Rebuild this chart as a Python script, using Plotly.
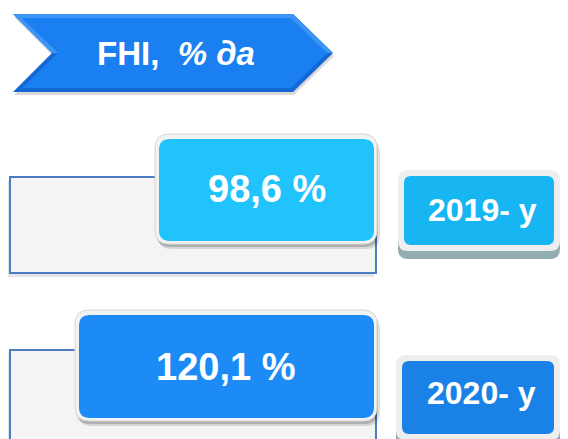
import plotly.graph_objects as go

# ---- data ----
title_main = "FHI,"
title_unit = "% да"
years = ["2019- y", "2020- y"]
values = [98.6, 120.1]

value_labels = [f"{v:.1f}".replace(".", ",") + " %" for v in values]

W, H = 568, 439
FONT = "Liberation Sans, Arial, sans-serif"

def rrect(x0, y0, x1, y1, r):
    return (f"M{x0+r},{y0} L{x1-r},{y0} Q{x1},{y0} {x1},{y0+r} "
            f"L{x1},{y1-r} Q{x1},{y1} {x1-r},{y1} L{x0+r},{y1} "
            f"Q{x0},{y1} {x0},{y1-r} L{x0},{y0+r} Q{x0},{y0} {x0+r},{y0} Z")

def poly(pts):
    return "M" + " L".join(f"{x},{y}" for x, y in pts) + " Z"

shapes = []
def add_path(path, fill, line_color="rgba(0,0,0,0)", lw=0):
    shapes.append(dict(type="path", path=path, xref="x", yref="y",
                       fillcolor=fill, line=dict(color=line_color, width=lw), layer="below"))

# ---- title arrow ----
arrow = [(13, 14), (293, 14), (333, 53), (293, 92), (13, 92), (52, 53)]
add_path(poly([(x + 1, y + 3) for x, y in arrow]), "rgba(0,0,0,0.15)")
add_path(poly(arrow), "#1368d6")
add_path(poly([(13, 14), (293, 14), (333, 53), (52, 53)]), "#3d95f5")
inner = [(22, 18), (291, 18), (327, 53), (291, 88), (22, 88), (58, 53)]
add_path(poly(inner), "#1a7ff0")

# ---- row boxes ----
frames = [(10, 177, 376, 273), (10, 350, 376, 445)]
val_boxes = [(155, 134, 377, 244), (75, 310, 377, 421)]
val_fills = ["#21c3fd", "#1c8bf6"]
year_boxes = [(398, 170, 560, 251), (396, 355, 560, 440)]
year_fills = ["#17b6f2", "#1a82e6"]
year_bands = ["#93adb5", "#9aa9b0"]

for i in range(len(values)):
    fx0, fy0, fx1, fy1 = frames[i]
    add_path(poly([(fx0 - 2, fy0 + 3), (fx1 - 2, fy0 + 3), (fx1 - 2, fy1 + 4), (fx0 - 2, fy1 + 4)]), "rgba(0,0,0,0.10)")
    add_path(poly([(fx0, fy0), (fx1, fy0), (fx1, fy1), (fx0, fy1)]), "#f4f4f4", "#4a7ec0", 2)

    vx0, vy0, vx1, vy1 = val_boxes[i]
    add_path(rrect(vx0 + 3, vy0 + 5, vx1 + 3, vy1 + 5, 14), "rgba(0,0,0,0.12)")
    add_path(rrect(vx0 + 1, vy0 + 3, vx1 + 1, vy1 + 3, 14), "rgba(0,0,0,0.18)")
    add_path(rrect(vx0, vy0, vx1, vy1, 14), "#f2f2f2", "#d6d6d6", 1)
    add_path(rrect(vx0 + 4, vy0 + 5, vx1 - 3, vy1 - 3, 11), val_fills[i])

    yx0, yy0, yx1, yy1 = year_boxes[i]
    add_path(rrect(yx0, yy0 + 6, yx1, yy1 + 8, 10), year_bands[i])
    add_path(rrect(yx0, yy0, yx1, yy1, 10), "#eeeeee")
    add_path(rrect(yx0 + 6, yy0 + 6, yx1 - 6, yy1 - 6, 7), year_fills[i])

fig = go.Figure()
fig.add_trace(go.Scatter(x=[0, W], y=[0, H], mode="markers",
                         marker=dict(opacity=0), hoverinfo="skip", showlegend=False))

annotations = [dict(x=176, y=53, xref="x", yref="y",
                    text=f"<b>{title_main}</b>  <b><i>{title_unit}</i></b>",
                    showarrow=False, font=dict(family=FONT, size=33, color="white"))]
val_centers = [(267, 189), (225, 367)]
year_centers = [(482, 210), (481, 393)]
for i in range(len(values)):
    annotations.append(dict(x=val_centers[i][0], y=val_centers[i][1], xref="x", yref="y",
                            text=f"<b>{value_labels[i]}</b>", showarrow=False,
                            font=dict(family=FONT, size=38, color="white")))
    annotations.append(dict(x=year_centers[i][0], y=year_centers[i][1], xref="x", yref="y",
                            text=f"<b>{years[i]}</b>", showarrow=False,
                            font=dict(family=FONT, size=32, color="white")))

fig.update_layout(
    width=W, height=H,
    margin=dict(l=0, r=0, t=0, b=0),
    paper_bgcolor="white", plot_bgcolor="white",
    xaxis=dict(range=[0, W], visible=False, fixedrange=True),
    yaxis=dict(range=[H, 0], visible=False, fixedrange=True),
    shapes=shapes, annotations=annotations,
)
fig.write_html("out.html", config=dict(displayModeBar=False),
               post_script="document.body.style.margin='0';document.body.style.overflow='hidden';")
